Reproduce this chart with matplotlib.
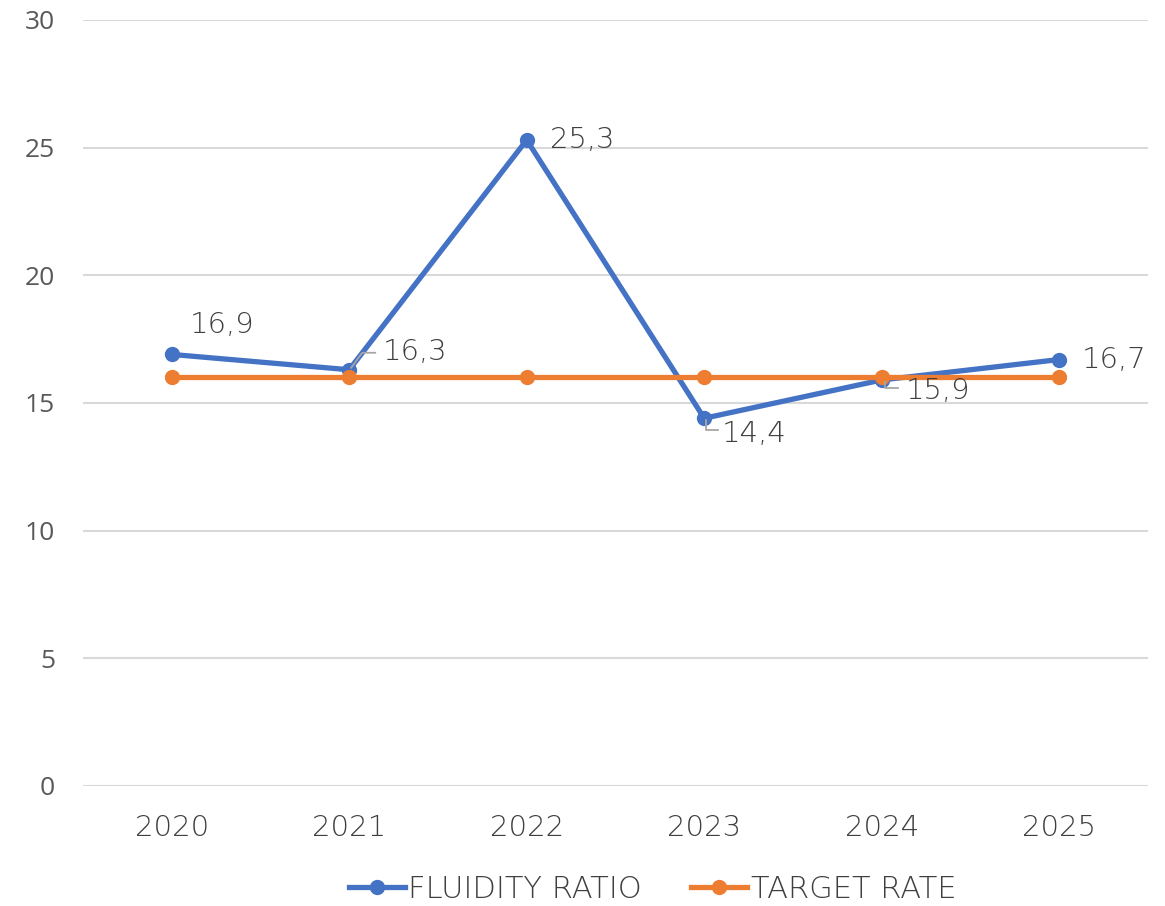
import matplotlib
matplotlib.use("Agg")
import matplotlib.pyplot as plt
from matplotlib.lines import Line2D

years = ["2020", "2021", "2022", "2023", "2024", "2025"]
fluidity = [16.9, 16.3, 25.3, 14.4, 15.9, 16.7]
target = [16, 16, 16, 16, 16, 16]
labels = ["16,9", "16,3", "25,3", "14,4", "15,9", "16,7"]
yticks = [0, 5, 10, 15, 20, 25, 30]

blue = "#4472C4"
orange = "#ED7D31"
txt = "#595959"
txt_thin = "#3F3F3F"
thin = dict(family=["DejaVu Sans"], weight="light")

fig = plt.figure(figsize=(11.65, 9.06), dpi=100)
ax = fig.add_axes([0.0712, 0.1325, 0.9142, 0.8455])
x = list(range(len(years)))

ax.plot(x, fluidity, color=blue, lw=3.8, marker="o", ms=10, zorder=3,
        solid_capstyle="round")
ax.plot(x, target, color=orange, lw=3.8, marker="o", ms=10, zorder=4,
        solid_capstyle="round")

ax.set_xlim(-0.5, 5.5)
ax.set_ylim(0, 30)
ax.set_yticks(yticks)
ax.set_yticklabels([str(v) for v in yticks], family=["Open Sans", "DejaVu Sans"],
                   fontsize=19, color=txt)
ax.set_xticks(x)
ax.set_xticklabels(years, fontsize=21, color=txt_thin, **thin)
ax.tick_params(axis="both", length=0)
ax.tick_params(axis="y", pad=20)
ax.tick_params(axis="x", pad=20)
for s in ax.spines.values():
    s.set_visible(False)
ax.yaxis.grid(True, color="#D9D9D9", lw=1.5)
ax.set_axisbelow(True)

# data labels (offsets in pixels)
offs = [(18, 29), (34, 18), (23, 0), (18, -16), (24, -11), (23, 0)]
for i, (v, lab) in enumerate(zip(fluidity, labels)):
    ax.annotate(lab, (i, v), xytext=offs[i], textcoords="offset pixels",
                ha="left", va="center", fontsize=21, color=txt_thin, zorder=6, **thin)

# leader lines (pixel offsets from the data point)
lead = {1: [(2, 2), (13, 17), (26, 17)], 3: [(2, -2), (2, -12), (14, -12)],
        4: [(3, -2), (3, -8), (16, -8)]}
for i, pts in lead.items():
    base = ax.transData.transform((i, fluidity[i]))
    line = Line2D([base[0] + p[0] for p in pts], [base[1] + p[1] for p in pts],
                  transform=None, color="#A6A6A6", lw=1.3, zorder=5)
    fig.add_artist(line)

handles = [Line2D([], [], color=blue, lw=3.8, marker="o", ms=10),
           Line2D([], [], color=orange, lw=3.8, marker="o", ms=10)]
leg = fig.legend(handles, ["FLUIDITY RATIO", "TARGET RATE"], loc="center",
                 bbox_to_anchor=(0.56, 0.018), ncol=2, frameon=False,
                 prop=dict(family=["DejaVu Sans"], weight="light", size=22),
                 handlelength=1.85, handletextpad=0.1, columnspacing=1.6)
for t in leg.get_texts():
    t.set_color(txt_thin)

fig.savefig("out.png", dpi=100)
